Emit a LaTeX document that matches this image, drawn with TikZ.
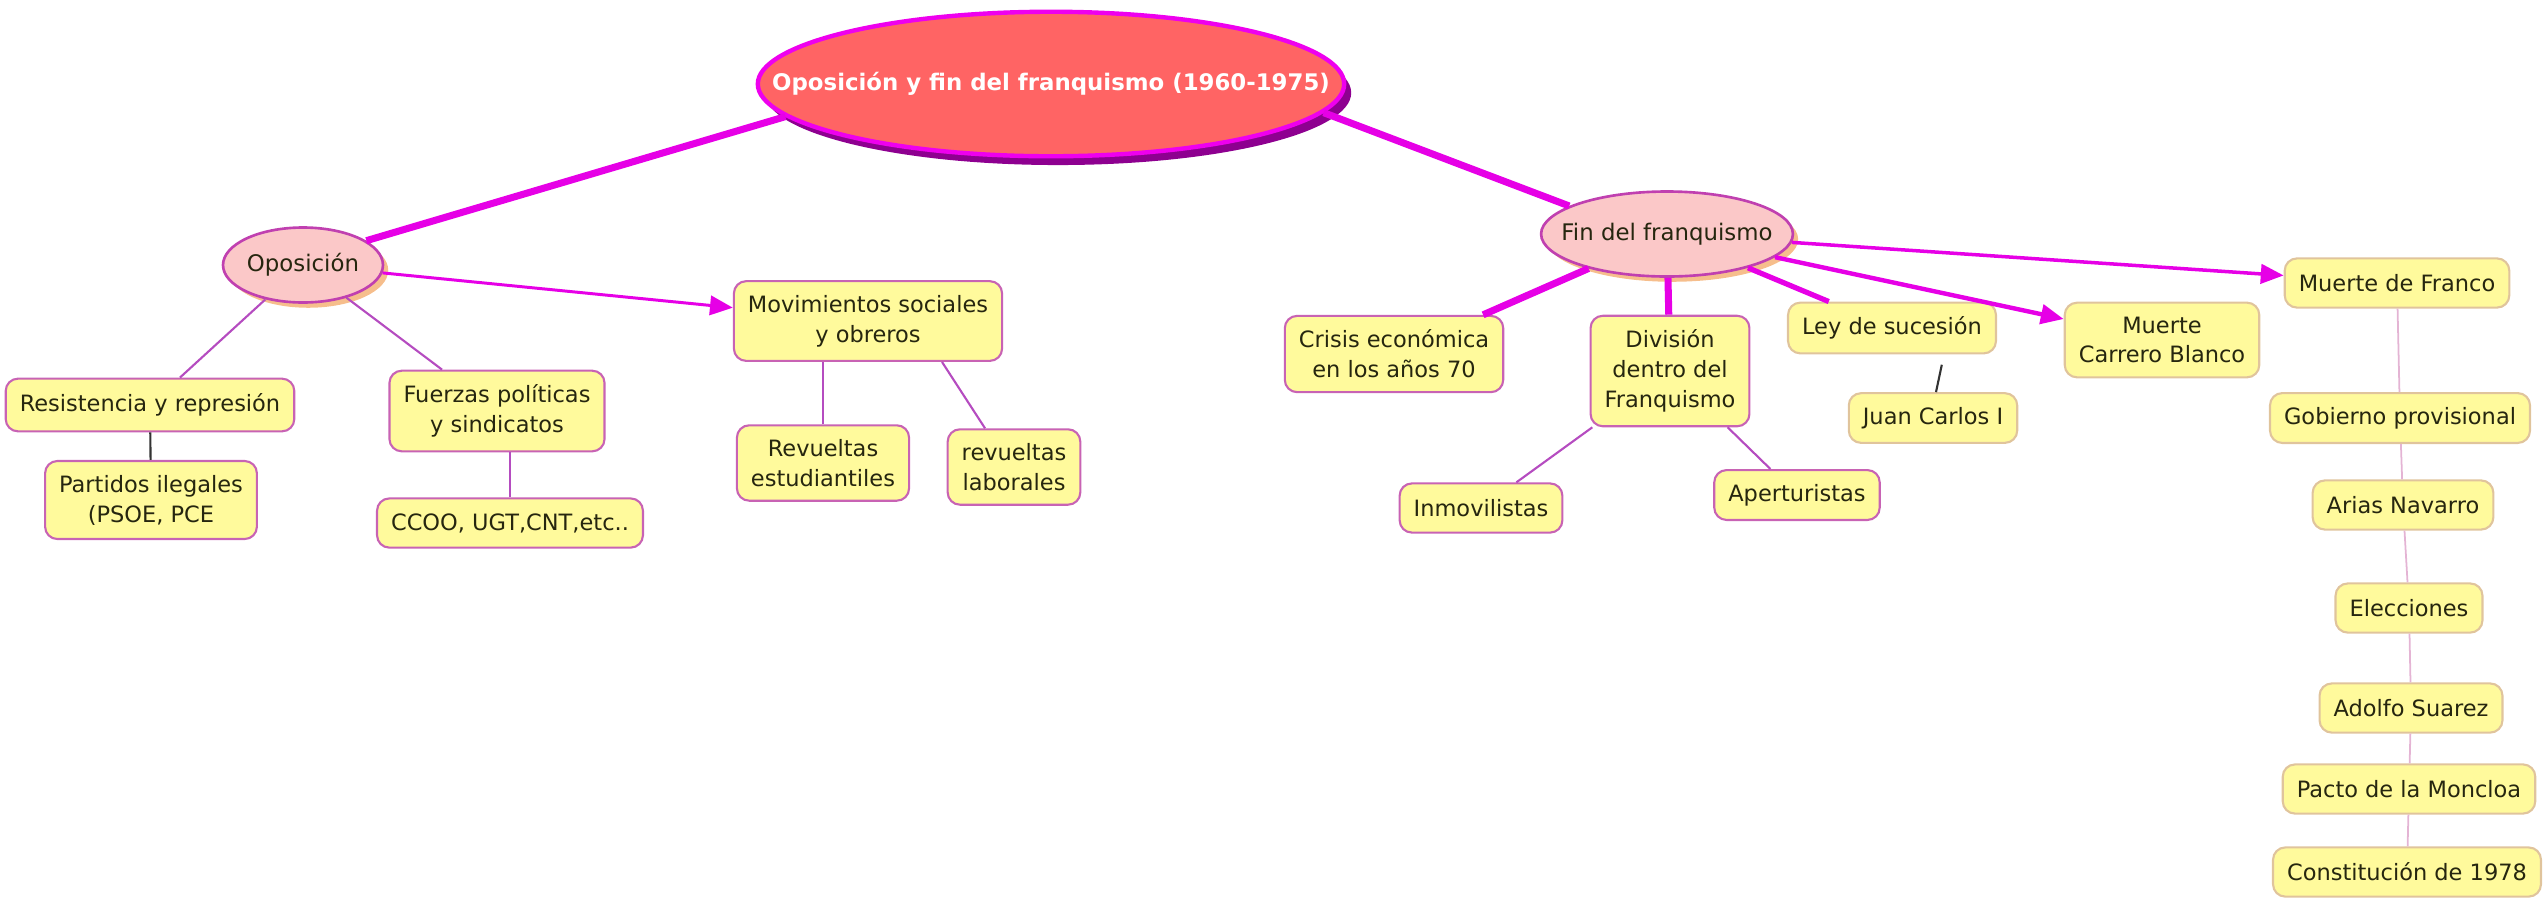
\documentclass[tikz,border=0pt]{standalone}
\usepackage{fontspec}
\setmainfont{DejaVu Sans}
\usetikzlibrary{shapes.geometric,arrows.meta,shadows}

\definecolor{boxfill}{HTML}{FFFA9C}
\definecolor{boxline}{HTML}{C863B4}
\definecolor{boxtan}{HTML}{E0C49C}
\definecolor{topicfill}{HTML}{FBC8C8}
\definecolor{topicline}{HTML}{C040B0}
\definecolor{topicshade}{HTML}{F6BE8C}
\definecolor{mainfill}{HTML}{FF6464}
\definecolor{mainline}{HTML}{EE00EE}
\definecolor{mainshade}{HTML}{8E0090}
\definecolor{linkmag}{HTML}{E600E6}
\definecolor{linkthin}{HTML}{B54CC0}
\definecolor{linkpale}{HTML}{E4B4D4}
\definecolor{inktext}{HTML}{26260F}

\tikzset{
  mainbubble/.style={ellipse, draw=mainline, fill=mainfill, line width=2.5pt,
    text=white, font=\fontsize{13}{16}\selectfont\bfseries,
    inner xsep=-1.43cm, inner ysep=0.79cm,
    drop shadow={fill=mainshade, opacity=1, shadow xshift=4pt, shadow yshift=-5pt}},
  topic/.style={ellipse, draw=topicline, fill=topicfill, line width=1.5pt,
    text=inktext, font=\fontsize{13}{16}\selectfont, inner sep=0pt,
    drop shadow={fill=topicshade, opacity=1, shadow xshift=3pt, shadow yshift=-3pt}},
  concept/.style={rectangle, rounded corners=7pt, draw=boxline, fill=boxfill,
    line width=1.2pt, text=inktext, align=center, inner xsep=8pt, inner ysep=8pt,
    minimum height=28pt, font=\fontsize{12.8}{17}\selectfont},
  tanconcept/.style={concept, draw=boxtan},
  thicklink/.style={draw=linkmag, line width=4pt},
  arrowlink/.style={draw=linkmag, -{Triangle[length=13pt,width=11pt]}},
  thinlink/.style={draw=linkthin, line width=1.2pt},
  darklink/.style={draw=black!80, line width=1.2pt},
  palelink/.style={draw=linkpale, line width=1pt}
}

\begin{document}
\begin{tikzpicture}[x=0.02cm, y=-0.02cm]
    \useasboundingbox (0,0) rectangle (2547,897);

    % main topic and its two branches
    \node [mainbubble] (main) at (1051,84) {Oposición y fin del franquismo (1960-1975)};
    \node [topic, minimum width=3.2cm, minimum height=1.5cm] (ops) at (303,265) {Oposición};
    \node [topic, inner xsep=-0.33cm, inner ysep=0.38cm] (fin) at (1667,234) {Fin del franquismo};

    % left branch
    \node [concept, minimum height=30pt] (res) at (150,405) {Resistencia y represión};
    \node [concept] (par) at (151,500) {Partidos ilegales\\(PSOE, PCE};
    \node [concept] (fuer) at (497,411) {Fuerzas políticas\\y sindicatos};
    \node [concept] (ccoo) at (510,523) {CCOO, UGT,CNT,etc..};
    \node [concept] (mov) at (868,321) {Movimientos sociales\\y obreros};
    \node [concept] (rest) at (823,463) {Revueltas\\estudiantiles};
    \node [concept] (rlab) at (1014,467) {revueltas\\laborales};

    % right branch
    \node [concept] (crisis) at (1394,354) {Crisis económica\\en los años 70};
    \node [concept] (div) at (1670,371) {División\\dentro del\\Franquismo};
    \node [concept] (inm) at (1481,508) {Inmovilistas};
    \node [concept] (ape) at (1797,495) {Aperturistas};
    \node [tanconcept] (ley) at (1892,328) {Ley de sucesión};
    \node [tanconcept] (juan) at (1933,418) {Juan Carlos I};
    \node [tanconcept] (carr) at (2162,340) {Muerte\\Carrero Blanco};

    % transition column
    \node [tanconcept] (fran) at (2397,283) {Muerte de Franco};
    \node [tanconcept] (gob) at (2400,418) {Gobierno provisional};
    \node [tanconcept] (arias) at (2403,505) {Arias Navarro};
    \node [tanconcept] (elec) at (2409,608) {Elecciones};
    \node [tanconcept] (ado) at (2411,708) {Adolfo Suarez};
    \node [tanconcept] (pacto) at (2409,789) {Pacto de la Moncloa};
    \node [tanconcept] (cons) at (2407,872) {Constitución de 1978};

    % links
    \draw [thicklink] (ops.21) -- (main.187);
    \draw [thicklink] (main.-6) -- (fin.164);

    \draw [thinlink] (ops) -- (res);
    \draw [thinlink] (ops) -- (fuer);
    \draw [darklink] (res) -- (par);
    \draw [thinlink] (ccoo.north) -- (ccoo.north |- fuer.south);
    \draw [arrowlink, line width=1.7pt] (ops) -- (mov);
    \draw [thinlink] (rest.north) -- (rest.north |- mov.south);
    \draw [thinlink] ([xshift=1.48cm]mov.south) -- ([xshift=-0.58cm]rlab.north);

    \draw [thicklink] (fin) -- (crisis);
    \draw [thicklink] (fin) -- (div);
    \draw [thicklink, line width=3pt] (fin) -- (ley);
    \draw [arrowlink, line width=2.5pt] (fin) -- (carr);
    \draw [arrowlink, line width=2pt] (fin) -- (fran);
    \draw [thinlink] (div) -- (inm);
    \draw [thinlink] (div) -- (ape);
    \draw [darklink, shorten <=6pt] ([xshift=1.04cm]ley.south) -- ([xshift=0.06cm]juan.north);

    \draw [palelink] (fran) -- (gob);
    \draw [palelink] (gob) -- (arias);
    \draw [palelink] (arias) -- (elec);
    \draw [palelink] (elec) -- (ado);
    \draw [palelink] (ado) -- (pacto);
    \draw [palelink] (pacto) -- (cons);
\end{tikzpicture}
\end{document}
